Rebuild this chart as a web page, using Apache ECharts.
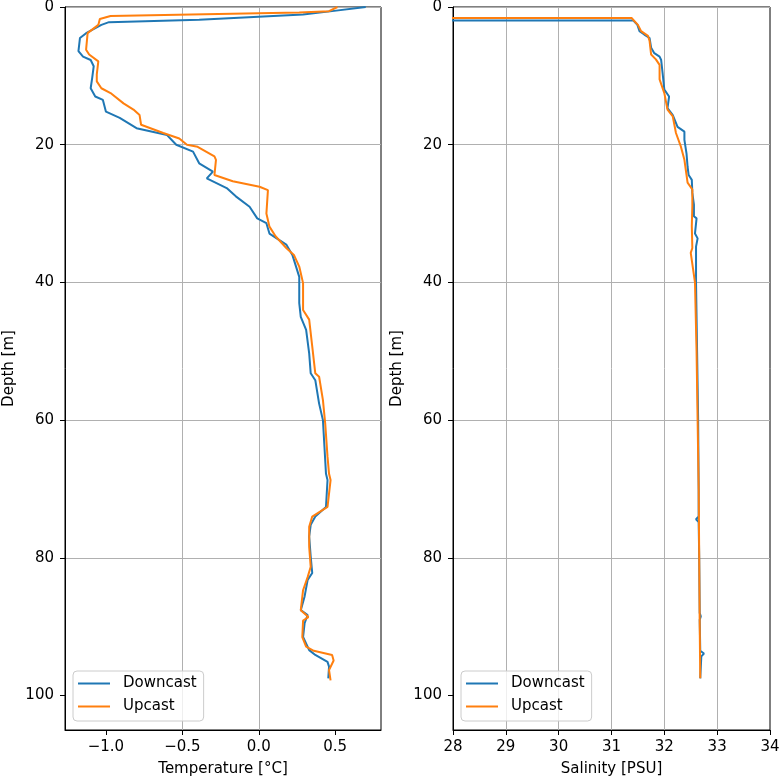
<!DOCTYPE html>
<html>
<head>
<meta charset="utf-8">
<script src="https://cdn.jsdelivr.net/npm/echarts@6/dist/echarts.min.js"></script>
<style>
  html, body { margin: 0; padding: 0; background: #fff; }
  #ctd-chart { width: 779px; height: 779px; }
</style>
</head>
<body>
<div id="ctd-chart"></div>
<script>
// temperature profile, downcast
var tempDownDepth = [0, 0.6, 1.1, 1.85, 2.2, 2.6, 3.8, 4.5, 6.4, 7.2, 7.7, 8.6, 10.3, 11.8, 13.0, 13.5, 15.2, 16.1, 17.6, 18.6,
  20.0, 21.0, 22.7, 23.9, 24.9, 26.3, 27.5, 29.0, 30.7, 31.4, 32.9, 34.5, 36.0, 39.2, 43.0, 45.0, 46.9, 50.3, 53.2, 54.2,
  57.6, 60.0, 63.9, 67.8, 68.7, 72.6, 74.0, 75.2, 76.9, 79.8, 82.2, 83.2, 85.6, 87.6, 88.3, 89.5, 91.5, 93.4, 94.1, 95.1, 95.8, 97.5];
var tempDown = [0.70, 0.48, 0.29, -0.39, -0.98, -1.03, -1.13, -1.17, -1.18, -1.15, -1.10, -1.08, -1.09, -1.10, -1.07, -1.02, -1.00, -0.91, -0.80, -0.60,
  -0.54, -0.43, -0.39, -0.30, -0.34, -0.21, -0.15, -0.06, -0.01, 0.05, 0.07, 0.18, 0.22, 0.265, 0.265, 0.275, 0.31, 0.33, 0.34, 0.37,
  0.395, 0.42, 0.43, 0.44, 0.45, 0.44, 0.37, 0.34, 0.33, 0.34, 0.35, 0.32, 0.30, 0.275, 0.32, 0.30, 0.29, 0.33, 0.37, 0.45, 0.46, 0.455];

// temperature profile, upcast
var tempUpDepth = [0, 0.6, 0.8, 1.3, 1.75, 2.6, 3.8, 6.2, 6.9, 7.9, 9.8, 10.8, 11.8, 12.5, 14.0, 14.9, 15.7, 17.1, 18.3, 19.1,
  20.0, 20.3, 21.7, 22.2, 24.4, 25.3, 26.1, 26.6, 30.0, 31.9, 33.3, 35.0, 36.0, 37.7, 40.1, 44.0, 45.4, 49.3, 53.2, 53.7,
  57.1, 60.5, 65.3, 67.8, 68.7, 72.6, 74.0, 75.5, 78.4, 81.3, 82.8, 84.7, 87.6, 88.6, 89.1, 91.5, 92.9, 93.5, 94.1, 94.9, 96.3, 97.8];
var tempUp = [0.515, 0.46, 0.265, -0.97, -1.04, -1.05, -1.12, -1.13, -1.11, -1.05, -1.06, -1.06, -1.03, -0.97, -0.885, -0.82, -0.78, -0.77, -0.625, -0.52,
  -0.47, -0.40, -0.29, -0.28, -0.29, -0.17, 0.005, 0.06, 0.05, 0.07, 0.11, 0.18, 0.23, 0.265, 0.29, 0.29, 0.33, 0.35, 0.37, 0.395,
  0.42, 0.435, 0.45, 0.46, 0.47, 0.45, 0.35, 0.33, 0.33, 0.34, 0.32, 0.29, 0.275, 0.325, 0.29, 0.285, 0.31, 0.36, 0.48, 0.49, 0.46, 0.47];

// salinity profile, downcast
var salDownDepth = [1.95, 1.95, 2.6, 3.5, 4.0, 4.5, 5.9, 6.7, 7.2, 7.7, 9.8, 12.0, 13.0, 14.7, 15.7, 17.4, 18.1, 19.3, 21.3, 23.2,
  24.4, 25.1, 27.0, 28.7, 30.4, 30.7, 32.9, 33.6, 34.8, 40, 50, 60, 70, 74.0, 74.4, 74.8, 80, 88, 88.5, 89, 93.5, 93.9, 94.3, 97.5];
var salDown = [20.0, 31.41, 31.49, 31.53, 31.62, 31.72, 31.75, 31.81, 31.91, 31.94, 31.97, 32.00, 32.09, 32.06, 32.16, 32.25, 32.38, 32.38, 32.42, 32.44,
  32.46, 32.52, 32.53, 32.56, 32.56, 32.61, 32.58, 32.63, 32.60, 32.60, 32.62, 32.64, 32.65, 32.65, 32.60, 32.65, 32.66, 32.67, 32.69, 32.67, 32.68, 32.75, 32.70, 32.68];

// salinity profile, upcast
var salUpDepth = [1.6, 1.6, 2.6, 3.5, 4.2, 4.9, 6.9, 7.6, 8.4, 10.5, 12.5, 14.9, 15.9, 18.3, 20.2, 22.2, 24.4, 25.5, 26.5, 28.9,
  31.8, 35.0, 35.7, 40, 50, 60, 70, 80, 90, 97.5];
var salUp = [20.0, 31.38, 31.50, 31.56, 31.69, 31.72, 31.75, 31.84, 31.91, 31.91, 32.00, 32.06, 32.16, 32.22, 32.31, 32.38, 32.42, 32.44, 32.53, 32.53,
  32.52, 32.53, 32.50, 32.58, 32.61, 32.63, 32.65, 32.66, 32.67, 32.68];

// ticks
var depthTicks = [0, 20, 40, 60, 80, 100];
var tempTicks = [-1.0, -0.5, 0.0, 0.5];
var tempTickLabels = ['\u22121.0', '\u22120.5', '0.0', '0.5'];
var salTicks = [28, 29, 30, 31, 32, 33, 34];

var blue = '#1f77b4';
var orange = '#ff7f0e';
var font = 'DejaVu Sans';
var fs = 15;

function pairs(xs, ys) {
  return xs.map(function (x, i) { return [x, ys[i]]; });
}

var chartDom = document.getElementById('ctd-chart');
var myChart = echarts.init(chartDom, null, { renderer: 'canvas' });

function depthAxis(idx) {
  return {
    gridIndex: idx,
    type: 'value',
    inverse: true,
    min: 0,
    max: 105,
    interval: 20,
    name: 'Depth [m]',
    nameLocation: 'middle',
    nameGap: 48,
    nameTextStyle: { color: '#000', fontSize: fs, fontFamily: font },
    axisLine: { show: true, onZero: false, lineStyle: { color: '#000' } },
    axisTick: { show: true, length: 5, customValues: depthTicks, lineStyle: { color: '#000' } },
    axisLabel: { customValues: depthTicks, color: '#000', fontSize: fs, fontFamily: font, margin: 11 },
    splitLine: { show: true, showMaxLine: false, lineStyle: { color: '#b0b0b0', width: 1 } }
  };
}

function legendBox(left) {
  return {
    left: left,
    top: 671,
    orient: 'vertical',
    icon: 'rect',
    itemWidth: 32,
    itemHeight: 2,
    itemGap: 8,
    padding: [5, 7, 7, 5],
    borderColor: '#cccccc',
    borderWidth: 1,
    borderRadius: 4,
    backgroundColor: 'rgba(255,255,255,0.8)',
    data: ['Downcast', 'Upcast'],
    textStyle: { color: '#000', fontSize: fs, fontFamily: font, padding: [0, 0, 0, 8] }
  };
}

var option = {
  animation: false,
  backgroundColor: '#fff',
  textStyle: { fontFamily: font },
  grid: [
    { left: 65, top: 7, width: 316, height: 723, outerBoundsMode: 'none', show: true, borderColor: '#000', borderWidth: 1 },
    { left: 453, top: 7, width: 317, height: 723, outerBoundsMode: 'none', show: true, borderColor: '#000', borderWidth: 1 }
  ],
  legend: [legendBox(73), legendBox(461)],
  xAxis: [
    {
      gridIndex: 0,
      type: 'value',
      min: -1.268,
      max: 0.80,
      name: 'Temperature [°C]',
      nameLocation: 'middle',
      nameGap: 32,
      nameTextStyle: { color: '#000', fontSize: fs, fontFamily: font },
      axisLine: { show: true, onZero: false, lineStyle: { color: '#000' } },
      axisTick: { show: true, length: 5, customValues: tempTicks, lineStyle: { color: '#000' } },
      axisLabel: {
        customValues: tempTicks,
        color: '#000', fontSize: fs, fontFamily: font, margin: 10,
        formatter: function (v) {
          var i = tempTicks.indexOf(Math.round(v * 10) / 10);
          return i >= 0 ? tempTickLabels[i] : '';
        }
      },
      splitLine: { show: true, showMinLine: false, showMaxLine: false, lineStyle: { color: '#b0b0b0', width: 1 } }
    },
    {
      gridIndex: 1,
      type: 'value',
      min: 28,
      max: 34,
      interval: 1,
      name: 'Salinity [PSU]',
      nameLocation: 'middle',
      nameGap: 32,
      nameTextStyle: { color: '#000', fontSize: fs, fontFamily: font },
      axisLine: { show: true, onZero: false, lineStyle: { color: '#000' } },
      axisTick: { show: true, length: 5, customValues: salTicks, lineStyle: { color: '#000' } },
      axisLabel: { customValues: salTicks, color: '#000', fontSize: fs, fontFamily: font, margin: 10 },
      splitLine: { show: true, showMinLine: false, showMaxLine: false, lineStyle: { color: '#b0b0b0', width: 1 } }
    }
  ],
  yAxis: [depthAxis(0), depthAxis(1)],
  series: [
    {
      name: 'Downcast', type: 'line', xAxisIndex: 0, yAxisIndex: 0,
      data: pairs(tempDown, tempDownDepth),
      symbol: 'none', color: blue, lineStyle: { color: blue, width: 2 }, clip: true
    },
    {
      name: 'Upcast', type: 'line', xAxisIndex: 0, yAxisIndex: 0,
      data: pairs(tempUp, tempUpDepth),
      symbol: 'none', color: orange, lineStyle: { color: orange, width: 2 }, clip: true
    },
    {
      name: 'Downcast', type: 'line', xAxisIndex: 1, yAxisIndex: 1,
      data: pairs(salDown, salDownDepth),
      symbol: 'none', color: blue, lineStyle: { color: blue, width: 2 }, clip: true
    },
    {
      name: 'Upcast', type: 'line', xAxisIndex: 1, yAxisIndex: 1,
      data: pairs(salUp, salUpDepth),
      symbol: 'none', color: orange, lineStyle: { color: orange, width: 2 }, clip: true
    }
  ]
};

option && myChart.setOption(option);
</script>
</body>
</html>
